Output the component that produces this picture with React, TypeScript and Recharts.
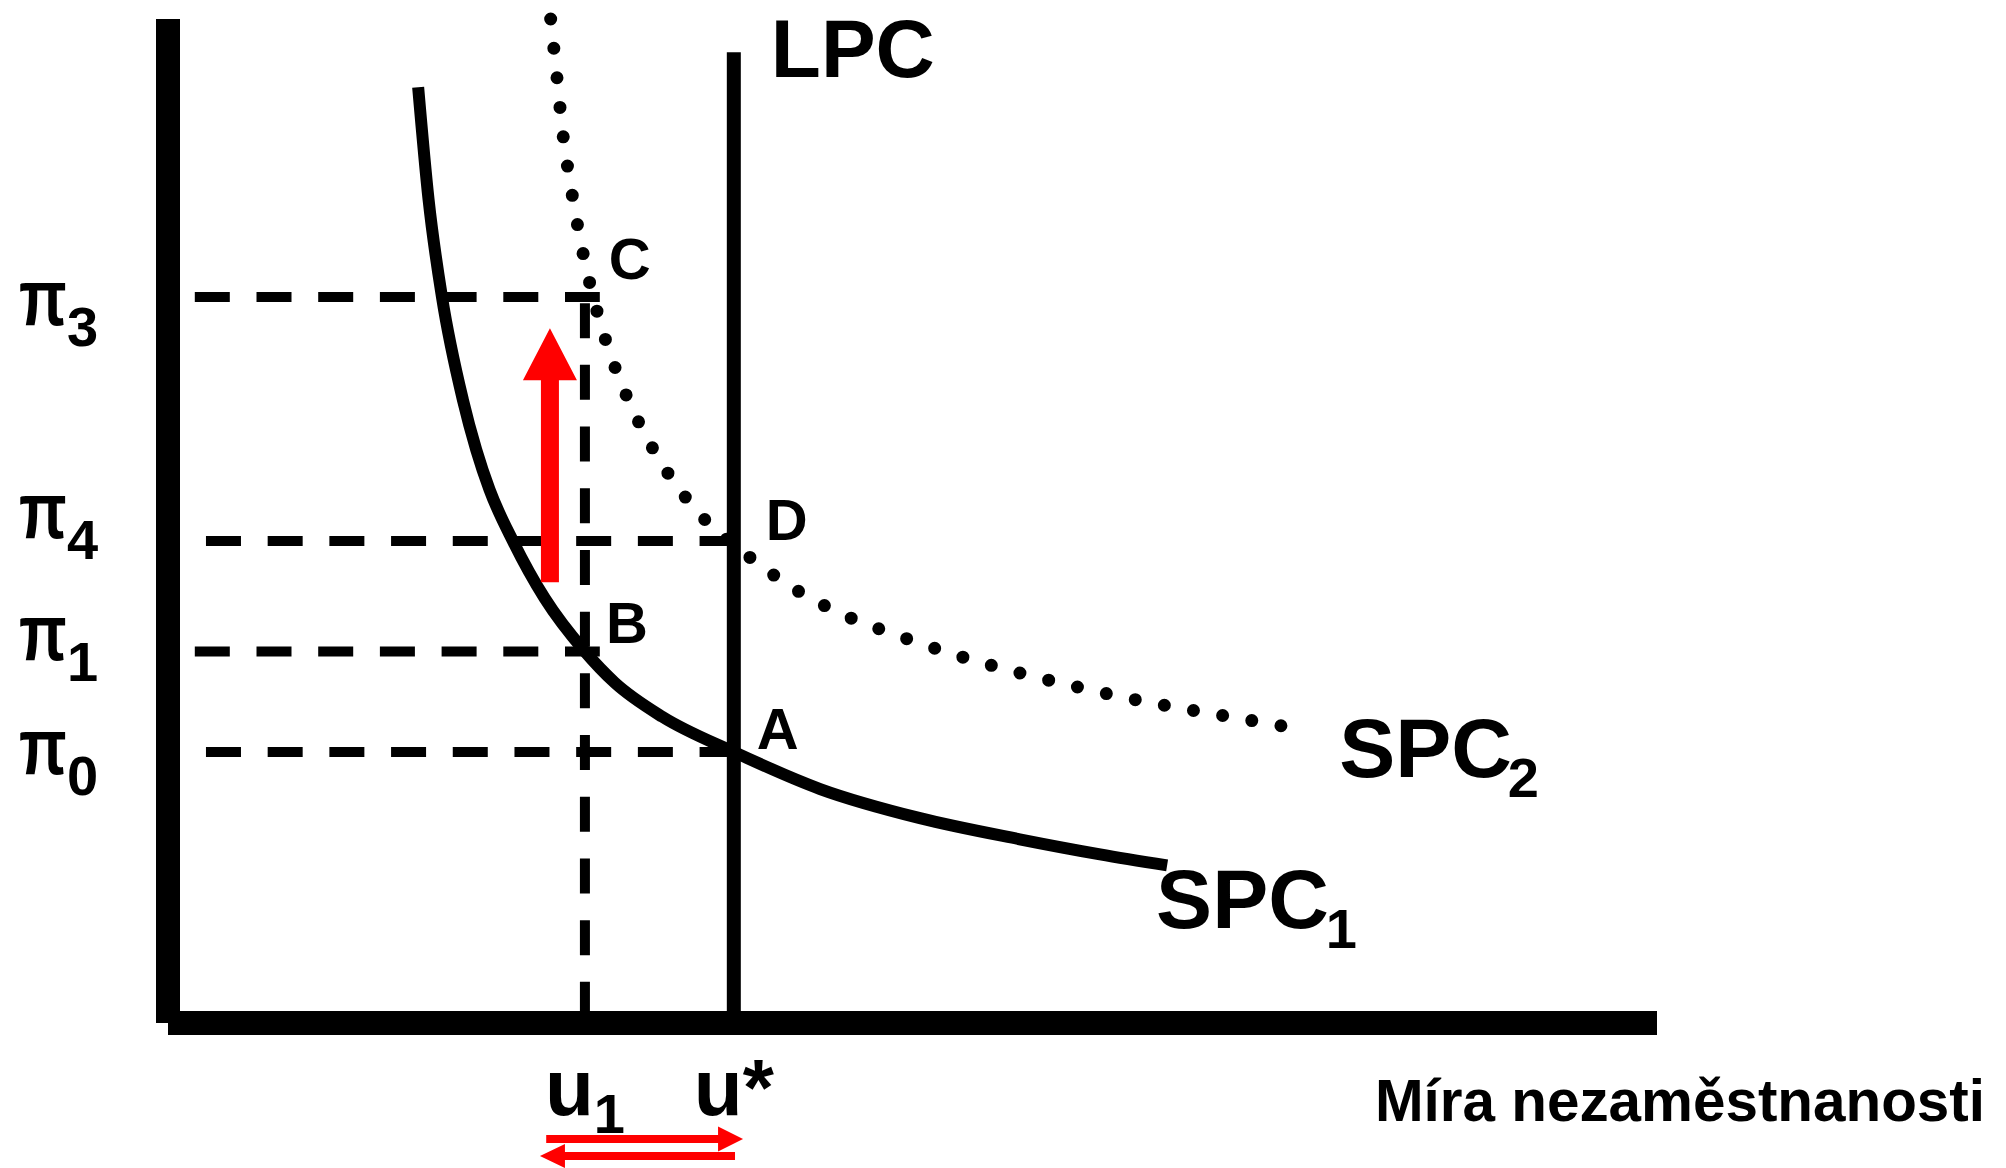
import { ComposedChart, Line, XAxis, YAxis, ReferenceLine, ReferenceDot } from 'recharts';

const FONT = "'Liberation Sans', Arial, Helvetica, sans-serif";

// unemployment (x) and inflation (y) levels, in chart units
const U1 = 2.8;
const U_STAR = 3.8;
const PI0 = 2.7;
const PI1 = 3.7;
const PI4 = 4.8;
const PI3 = 7.23;
const LPC_TOP = 9.67;

const uTicks = [U1, U_STAR];
const uTickMain = ['u', 'u*'];
const uTickSub = ['1', ''];

const piTicks = [PI0, PI1, PI4, PI3];
const piTickSub = ['0', '1', '4', '3'];

// short-run Phillips curve 1 (solid)
const spc1X = [1.68, 1.75, 1.84, 1.98, 2.07, 2.16, 2.32, 2.53, 2.8, 3.0, 3.32, 3.8, 4.38, 5.05, 5.72, 6.26, 6.71];
const spc1Y = [9.32, 8.2, 7.23, 6.21, 5.71, 5.31, 4.79, 4.23, 3.7, 3.39, 3.05, 2.7, 2.33, 2.04, 1.83, 1.68, 1.57];

// short-run Phillips curve 2 (dotted)
const spc2X = [2.57, 2.61, 2.65, 2.71, 2.78, 2.87, 2.99, 3.14, 3.33, 3.57, 3.88, 4.19, 4.53, 4.9, 5.28, 5.66, 6.04, 6.43, 6.82, 7.21, 7.59];
const spc2Y = [10.0, 9.45, 8.88, 8.29, 7.72, 7.15, 6.58, 6.05, 5.54, 5.07, 4.67, 4.34, 4.07, 3.86, 3.67, 3.51, 3.37, 3.24, 3.13, 3.03, 2.93];

// labelled points
const pointNames = ['A', 'B', 'C', 'D'];
const pointX = [U_STAR, U1, 2.86, U_STAR];
const pointY = [PI0, PI1, PI3, PI4];

// red arrows: from (x, y) to (x, y)
const riseArrow = [2.565, 4.39, 2.565, 6.92];
const rightArrow = [2.54, -1.155, 3.862, -1.155];
const leftArrow = [3.808, -1.325, 2.498, -1.325];

const spc1 = spc1X.map((x, i) => ({ x, y: spc1Y[i] }));
const spc2 = spc2X.map((x, i) => ({ x, y: spc2Y[i] }));

// label offsets (px) from their anchor
const PI_DY = [22, 8, -3, 28];
const POINT_OFFSET: Record<string, [number, number]> = {
  A: [23, -3],
  B: [21, -9],
  C: [15, -18],
  D: [32, -1],
};

const DASH = '35 26.7';

function PiTick(props: any) {
  const i = piTicks.indexOf(props.payload.value);
  const base = props.y + PI_DY[i];
  return (
    <g>
      <text transform={`translate(19, ${base}) scale(0.78, 1)`} fontFamily={FONT} fontWeight="bold" fontSize={80} fill="#000">
        π
      </text>
      <text x={67} y={base + 21} fontFamily={FONT} fontWeight="bold" fontSize={56} fill="#000">
        {piTickSub[i]}
      </text>
    </g>
  );
}

function UTick(props: any) {
  const i = uTicks.indexOf(props.payload.value);
  return (
    <text x={props.x} y={props.y + 84} textAnchor="middle" fontFamily={FONT} fontWeight="bold" fontSize={80} fill="#000">
      {uTickMain[i]}
      {uTickSub[i] && (
        <tspan fontSize={56} dy={18}>
          {uTickSub[i]}
        </tspan>
      )}
    </text>
  );
}

function arrowShape(shaftW: number, headW: number, headL: number) {
  return (p: any) => {
    const { x1, y1, x2, y2 } = p;
    const len = Math.hypot(x2 - x1, y2 - y1);
    const ux = (x2 - x1) / len;
    const uy = (y2 - y1) / len;
    const nx = -uy;
    const ny = ux;
    const bx = x2 - ux * headL;
    const by = y2 - uy * headL;
    const pts = [
      [x1 + (nx * shaftW) / 2, y1 + (ny * shaftW) / 2],
      [bx + (nx * shaftW) / 2, by + (ny * shaftW) / 2],
      [bx + (nx * headW) / 2, by + (ny * headW) / 2],
      [x2, y2],
      [bx - (nx * headW) / 2, by - (ny * headW) / 2],
      [bx - (nx * shaftW) / 2, by - (ny * shaftW) / 2],
      [x1 - (nx * shaftW) / 2, y1 - (ny * shaftW) / 2],
    ];
    return <polygon points={pts.map((q) => q.join(',')).join(' ')} fill="#FF0000" />;
  };
}

function textLabel(text: string, sub: string, dx: number, dy: number, size: number, subDx = 0) {
  return (p: any) => {
    const vb = p.viewBox || {};
    return (
      <text x={vb.x + dx} y={vb.y + dy} fontFamily={FONT} fontWeight="bold" fontSize={size} fill="#000">
        {text}
        {sub && (
          <tspan fontSize={56} dy={20} dx={subDx}>
            {sub}
          </tspan>
        )}
      </text>
    );
  };
}

function AxisTitle(p: any) {
  const vb = p.viewBox;
  return (
    <text x={vb.x + vb.width + 328} y={vb.y + 98} textAnchor="end" fontFamily={FONT} fontWeight="bold" fontSize={58.4} fill="#000">
      Míra nezaměstnanosti
    </text>
  );
}

export default function App() {
  const last1 = spc1[spc1.length - 1];
  const last2 = spc2[spc2.length - 1];
  return (
    <div style={{ position: 'absolute', left: 0, top: 0, width: 2006, height: 1168, background: '#fff' }}>
      <ComposedChart width={2006} height={1168} margin={{ top: 19, right: 349, bottom: 0, left: 0 }}>
        <XAxis
          type="number"
          dataKey="x"
          domain={[0, 10]}
          ticks={uTicks}
          interval={0}
          height={145}
          tickLine={false}
          axisLine={{ stroke: '#000', strokeWidth: 24 }}
          tick={<UTick />}
          label={(p: any) => <AxisTitle {...p} />}
        />
        <YAxis
          type="number"
          dataKey="y"
          domain={[0, 10]}
          ticks={piTicks}
          interval={0}
          width={168}
          tickLine={false}
          axisLine={{ stroke: '#000', strokeWidth: 24 }}
          tick={<PiTick />}
        />

        {/* guide lines */}
        <ReferenceLine segment={[{ x: 0.18, y: PI3 }, { x: 2.9, y: PI3 }]} stroke="#000" strokeWidth={10} strokeDasharray={DASH} />
        <ReferenceLine segment={[{ x: 0.255, y: PI4 }, { x: U_STAR, y: PI4 }]} stroke="#000" strokeWidth={10} strokeDasharray={DASH} />
        <ReferenceLine segment={[{ x: 0.18, y: PI1 }, { x: 2.9, y: PI1 }]} stroke="#000" strokeWidth={10} strokeDasharray={DASH} />
        <ReferenceLine segment={[{ x: 0.255, y: PI0 }, { x: U_STAR, y: PI0 }]} stroke="#000" strokeWidth={10} strokeDasharray={DASH} />
        <ReferenceLine segment={[{ x: U1, y: 7.17 }, { x: U1, y: 0 }]} stroke="#000" strokeWidth={10} strokeDasharray={DASH} />

        {/* long-run Phillips curve */}
        <ReferenceLine
          segment={[{ x: U_STAR, y: LPC_TOP }, { x: U_STAR, y: -0.12 }]}
          stroke="#000"
          strokeWidth={14}
          ifOverflow="visible"
        />

        <Line
          data={spc1}
          dataKey="y"
          type="monotone"
          stroke="#000"
          strokeWidth={12}
          dot={false}
          activeDot={false}
          isAnimationActive={false}
        />
        <Line
          data={spc2}
          dataKey="y"
          type="monotone"
          stroke="#000"
          strokeWidth={13}
          strokeDasharray="0 29.6"
          strokeLinecap="round"
          dot={false}
          activeDot={false}
          isAnimationActive={false}
        />

        {/* red arrows */}
        <ReferenceLine
          segment={[{ x: riseArrow[0], y: riseArrow[1] }, { x: riseArrow[2], y: riseArrow[3] }]}
          shape={arrowShape(18, 54, 52)}
          ifOverflow="visible"
        />
        <ReferenceLine
          segment={[{ x: rightArrow[0], y: rightArrow[1] }, { x: rightArrow[2], y: rightArrow[3] }]}
          shape={arrowShape(8, 25, 25)}
          ifOverflow="visible"
        />
        <ReferenceLine
          segment={[{ x: leftArrow[0], y: leftArrow[1] }, { x: leftArrow[2], y: leftArrow[3] }]}
          shape={arrowShape(8, 24, 25)}
          ifOverflow="visible"
        />

        {/* labels */}
        {pointNames.map((n, i) => (
          <ReferenceDot
            key={n}
            x={pointX[i]}
            y={pointY[i]}
            r={0}
            fill="none"
            stroke="none"
            ifOverflow="visible"
            label={textLabel(n, '', POINT_OFFSET[n][0], POINT_OFFSET[n][1], 58)}
          />
        ))}
        <ReferenceDot x={U_STAR} y={LPC_TOP} r={0} fill="none" stroke="none" ifOverflow="visible" label={textLabel('LPC', '', 37, 25, 82)} />
        <ReferenceDot x={last1.x} y={last1.y} r={0} fill="none" stroke="none" ifOverflow="visible" label={textLabel('SPC', '1', -11, 63, 84, -3)} />
        <ReferenceDot x={last2.x} y={last2.y} r={0} fill="none" stroke="none" ifOverflow="visible" label={textLabel('SPC', '2', 41, 48, 84, -4)} />
      </ComposedChart>
    </div>
  );
}
